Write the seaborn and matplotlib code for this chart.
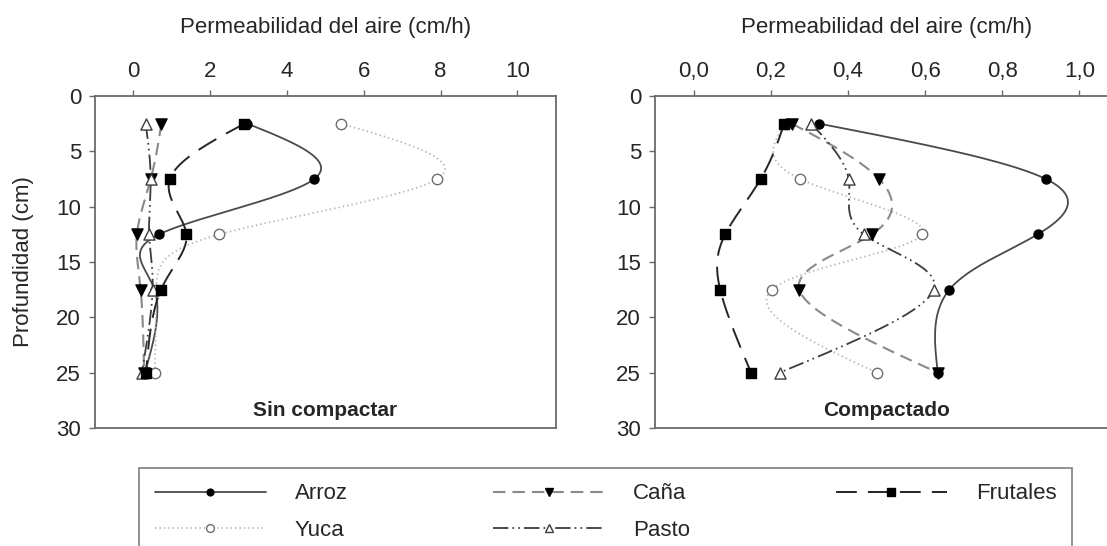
import numpy as np
import matplotlib
matplotlib.use("Agg")
import matplotlib.pyplot as plt
from matplotlib.lines import Line2D
import seaborn as sns

# Depth of each sampling layer (cm)
depth = [2.5, 7.5, 12.5, 17.5, 25.0]

# Air permeability (cm/h), non-compacted soil
arroz_sc = [2.97, 4.71, 0.67, 0.55, 0.30]
yuca_sc = [5.41, 7.91, 2.24, 0.60, 0.56]
cana_sc = [0.73, 0.45, 0.09, 0.19, 0.28]
pasto_sc = [0.32, 0.45, 0.41, 0.50, 0.22]
frutales_sc = [2.89, 0.95, 1.38, 0.72, 0.33]

# Air permeability (cm/h), compacted soil
arroz_c = [0.326, 0.913, 0.892, 0.663, 0.633]
yuca_c = [0.240, 0.276, 0.592, 0.203, 0.475]
cana_c = [0.255, 0.481, 0.462, 0.274, 0.633]
pasto_c = [0.305, 0.402, 0.441, 0.622, 0.223]
frutales_c = [0.235, 0.174, 0.082, 0.069, 0.149]

cultivos = ["Arroz", "Yuca", "Caña", "Pasto", "Frutales"]
y_ticks = [0, 5, 10, 15, 20, 25, 30]
x_ticks_sc = [0, 2, 4, 6, 8, 10]
x_labels_sc = ["0", "2", "4", "6", "8", "10"]
x_ticks_c = [0.0, 0.2, 0.4, 0.6, 0.8, 1.0]
x_labels_c = ["0,0", "0,2", "0,4", "0,6", "0,8", "1,0"]

sns.set_theme(style="white")
plt.rcParams["font.family"] = ["Liberation Sans", "DejaVu Sans"]
plt.rcParams["lines.scale_dashes"] = False

styles = {
    "Arroz": dict(color="#4a4a4a", lw=1.3, dashes=None, marker="o", ms=6.5,
                  mfc="black", mec="black"),
    "Yuca": dict(color="#b5b5b5", lw=1.3, dashes=(1.0, 2.2), marker="o", ms=7.5,
                 mfc="white", mec="#6e6e6e"),
    "Caña": dict(color="#8a8a8a", lw=1.5, dashes=(9, 5), marker="v", ms=8,
                 mfc="black", mec="black"),
    "Pasto": dict(color="#3c3c3c", lw=1.3, dashes=(11, 3, 1.2, 3, 1.2, 3), marker="^",
                  ms=8, mfc="white", mec="#3c3c3c"),
    "Frutales": dict(color="#262626", lw=1.4, dashes=(15, 8), marker="s", ms=7,
                     mfc="black", mec="black"),
}


def natural_spline(v, n=60):
    """Natural cubic spline through v, parametrised by point index."""
    v = np.asarray(v, float)
    k = len(v)
    A = np.zeros((k, k))
    b = np.zeros(k)
    A[0, 0] = A[-1, -1] = 1.0
    for i in range(1, k - 1):
        A[i, i - 1], A[i, i], A[i, i + 1] = 1.0, 4.0, 1.0
        b[i] = 6 * (v[i + 1] - 2 * v[i] + v[i - 1])
    M = np.linalg.solve(A, b)
    tt = np.linspace(0, k - 1, n * (k - 1) + 1)
    idx = np.clip(np.floor(tt).astype(int), 0, k - 2)
    c = tt - idx
    a = 1 - c
    return (a * v[idx] + c * v[idx + 1]
            + ((a ** 3 - a) * M[idx] + (c ** 3 - c) * M[idx + 1]) / 6)


W, H = 1107, 546
fig = plt.figure(figsize=(W / 100, H / 100), dpi=100)
ax1 = fig.add_axes([95 / W, 1 - 428 / H, 460.7 / W, 332 / H])
ax2 = fig.add_axes([655 / W, 1 - 428 / H, 463 / W, 332 / H])

panels = [
    (ax1, [arroz_sc, yuca_sc, cana_sc, pasto_sc, frutales_sc], (-1, 11),
     x_ticks_sc, x_labels_sc, "Sin compactar"),
    (ax2, [arroz_c, yuca_c, cana_c, pasto_c, frutales_c], (-0.1, 1.1),
     x_ticks_c, x_labels_c, "Compactado"),
]

FS = 16
spine_col = "#6a6a6a"

for ax, series, xlim, xt, xl, title in panels:
    for name, vals in zip(cultivos, series):
        st = styles[name]
        xx = natural_spline(vals)
        dd = natural_spline(depth)
        sns.lineplot(x=xx, y=dd, ax=ax, sort=False, estimator=None,
                     color=st["color"], lw=st["lw"], legend=False)
        if st["dashes"] is not None:
            ax.lines[-1].set_dashes(st["dashes"])
    for name, vals in zip(cultivos, series):
        st = styles[name]
        sns.scatterplot(x=vals, y=depth, ax=ax, marker=st["marker"],
                        s=st["ms"] ** 2, color=st["mfc"], edgecolor=st["mec"],
                        linewidth=1.0, zorder=5, legend=False)
    ax.set_xlim(*xlim)
    ax.set_ylim(30, 0)
    ax.set_xticks(xt)
    ax.set_xticklabels(xl)
    ax.set_yticks(y_ticks)
    ax.xaxis.tick_top()
    ax.xaxis.set_label_position("top")
    ax.set_xlabel("Permeabilidad del aire (cm/h)", fontsize=FS, labelpad=20)
    ax.set_ylabel("")
    ax.tick_params(axis="both", which="major", direction="out", length=4,
                   width=1.0, color=spine_col, labelsize=FS, pad=6,
                   top=True, bottom=False, left=True, right=False)
    for sp in ax.spines.values():
        sp.set_color(spine_col)
        sp.set_linewidth(1.3)
    ax.text(np.mean(xlim), 28.4, title, ha="center", va="center",
            fontsize=FS - 1, fontweight="bold")

ax1.set_ylabel("Profundidad (cm)", fontsize=FS, labelpad=16)

handles = []
for name in cultivos:
    st = styles[name]
    h = Line2D([], [], color=st["color"], lw=st["lw"], marker=st["marker"],
               markersize=st["ms"] * 0.75, markerfacecolor=st["mfc"],
               markeredgecolor=st["mec"])
    if st["dashes"] is not None:
        h.set_dashes(st["dashes"])
    handles.append(h)

leg = fig.legend(handles, cultivos, loc="upper left",
                 bbox_to_anchor=(139 / W, 1 - 468.3 / H, 933 / W, 0.001),
                 mode="expand", ncol=3, borderaxespad=0,
                 fontsize=FS, handlelength=5.0, handletextpad=1.3,
                 columnspacing=6.0, labelspacing=0.7, borderpad=0.7,
                 frameon=True, fancybox=False, edgecolor=spine_col)
leg.get_frame().set_linewidth(1.3)

fig.savefig("out.png", dpi=100)
